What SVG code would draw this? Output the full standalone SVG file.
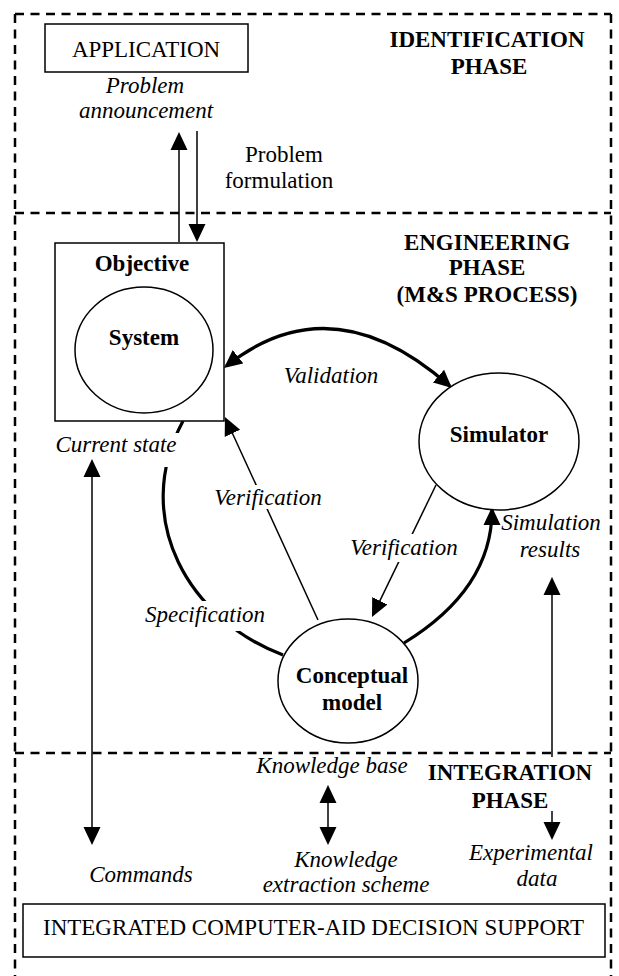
<svg xmlns="http://www.w3.org/2000/svg" width="619" height="976" viewBox="0 0 619 976">
  <style>
    .frame { fill: none; stroke: #000; stroke-width: 2.5; stroke-dasharray: 9 6.5; }
    .box { fill: #fff; stroke: #000; stroke-width: 1.5; }
    .thin { fill: none; stroke: #000; stroke-width: 1.5; }
    .thick { fill: none; stroke: #000; stroke-width: 3.2; }
    text { font-family: "Liberation Serif", "Times New Roman", serif; font-size: 23px; fill: #000; text-anchor: middle; }
    .b { font-weight: bold; }
    .i { font-style: italic; }
  </style>
  <defs>
    <marker id="head" viewBox="0 0 18 18" refX="15" refY="9" markerWidth="18" markerHeight="18" markerUnits="userSpaceOnUse" orient="auto-start-reverse">
      <path d="M0,0.5 L18,9 L0,17.5 z" fill="#000"/>
    </marker>
    <!-- openings where connector labels interrupt the lines -->
    <mask id="gaps" maskUnits="userSpaceOnUse" x="0" y="0" width="619" height="976">
      <rect width="619" height="976" fill="#fff"/>
      <rect x="50" y="433" width="135" height="34" fill="#000"/>
      <rect x="140" y="601" width="130" height="30" fill="#000"/>
      <rect x="210" y="485" width="117" height="24" fill="#000"/>
      <rect x="346" y="534" width="117" height="28" fill="#000"/>
    </mask>
  </defs>
  <rect width="619" height="976" fill="#fff"/>

  <!-- phase frames -->
  <g id="phases">
    <path class="frame" d="M15,14 H611 M15,14 V990 M611,14 V990 M15,213 H611 M15,753 H611"/>
    <text class="b" x="487" y="47">IDENTIFICATION</text>
    <text class="b" x="489" y="74">PHASE</text>
    <text class="b" x="487" y="250">ENGINEERING</text>
    <text class="b" x="487" y="275">PHASE</text>
    <text class="b" x="487" y="302">(M&amp;S PROCESS)</text>
    <text class="b" x="510" y="780">INTEGRATION</text>
    <text class="b" x="510" y="808">PHASE</text>
  </g>

  <!-- connectors -->
  <g id="connectors">
    <path class="thin" d="M179,242 V135" marker-end="url(#head)"/>
    <path class="thin" d="M197,131 V239" marker-end="url(#head)"/>
    <path class="thick" d="M226.3,366.1 Q332,282 449.7,386" marker-start="url(#head)" marker-end="url(#head)"/>
    <path class="thick" d="M183,421 C130,520 190,620 283,655" mask="url(#gaps)"/>
    <path class="thin" d="M318,620 L226.2,419.7" marker-end="url(#head)" mask="url(#gaps)"/>
    <path class="thin" d="M436,485 L373.3,614.3" marker-end="url(#head)" mask="url(#gaps)"/>
    <path class="thick" d="M404,643 Q492,589 492,510" marker-end="url(#head)"/>
    <path class="thin" d="M92,462 V842" marker-start="url(#head)" marker-end="url(#head)"/>
    <path class="thin" d="M552,757 V580" marker-end="url(#head)"/>
    <path class="thin" d="M328,788 V842" marker-start="url(#head)" marker-end="url(#head)"/>
    <path class="thin" d="M552,811 V837" marker-end="url(#head)"/>
  </g>

  <!-- nodes -->
  <g id="application">
    <rect class="box" x="45" y="24" width="203" height="48"/>
    <text x="146" y="57">APPLICATION</text>
  </g>
  <g id="objective">
    <rect class="box" x="55" y="243" width="169" height="178"/>
    <text class="b" x="142" y="271">Objective</text>
  </g>
  <g id="system">
    <ellipse class="box" cx="144" cy="350" rx="69" ry="63"/>
    <text class="b" x="144" y="345">System</text>
  </g>
  <g id="simulator">
    <ellipse class="box" cx="499" cy="441.5" rx="80" ry="68.5"/>
    <text class="b" x="499" y="442">Simulator</text>
  </g>
  <g id="conceptual-model">
    <ellipse class="box" cx="348" cy="681" rx="70" ry="62"/>
    <text class="b" x="352" y="683">Conceptual</text>
    <text class="b" x="352" y="710">model</text>
  </g>
  <g id="decision-support">
    <rect class="box" x="23" y="904" width="582" height="53"/>
    <text x="313.5" y="935">INTEGRATED COMPUTER-AID DECISION SUPPORT</text>
  </g>

  <!-- connector labels -->
  <g id="labels">
    <text class="i" x="145" y="93">Problem</text>
    <text class="i" x="146" y="118">announcement</text>
    <text x="284" y="162">Problem</text>
    <text x="279" y="188">formulation</text>
    <text class="i" x="331" y="383">Validation</text>
    <text class="i" x="116" y="452">Current state</text>
    <text class="i" x="268" y="505">Verification</text>
    <text class="i" x="404" y="555">Verification</text>
    <text class="i" x="551" y="530">Simulation</text>
    <text class="i" x="550" y="557">results</text>
    <text class="i" x="205" y="622">Specification</text>
    <text class="i" x="332" y="773">Knowledge base</text>
    <text class="i" x="346" y="867">Knowledge</text>
    <text class="i" x="346" y="892">extraction scheme</text>
    <text class="i" x="141" y="882">Commands</text>
    <text class="i" x="531" y="860">Experimental</text>
    <text class="i" x="537" y="886">data</text>
  </g>
</svg>
